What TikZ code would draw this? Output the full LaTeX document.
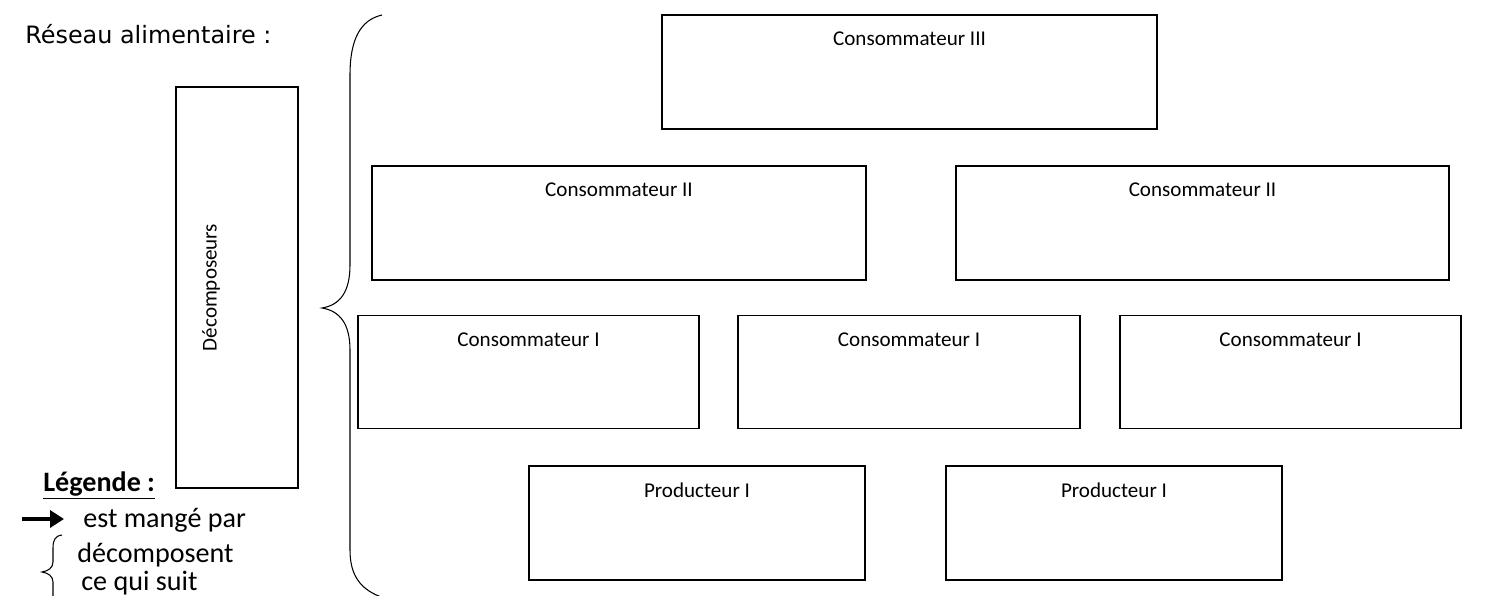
\documentclass[tikz,border=0pt]{standalone}
\usepackage{fontspec}
\setmainfont{Carlito}
\newfontfamily\titlefont{DejaVu Sans}
\usepackage{tikz}
\usetikzlibrary{positioning, arrows.meta}

\begin{document}
\begin{tikzpicture}[x = 0.02cm, y = -0.02cm,
    box/.style = {draw, thick, rectangle, inner sep = 0pt},
    lbl/.style = {inner sep = 0pt, font = \fontsize{12}{14}\selectfont},
    legtxt/.style = {inner sep = 0pt, anchor = base west, font = \fontsize{16}{19}\selectfont}]
    \useasboundingbox (0,0) rectangle (1493,595);
    % titre
    \node[inner sep = 0pt, anchor = base west, font = \titlefont\fontsize{13.6}{16}\selectfont] (titre) at (25,43) {Réseau alimentaire :};
    % decomposeurs
    \node[box, minimum width = 24.4mm, minimum height = 80.2mm] (dec) at (237,287.5) {};
    \node[lbl, rotate = 90] (dect) at ([xshift = -5.2mm]dec.center) {Décomposeurs};
    % accolade
    \draw[semithick] (382,15) .. controls (360,20) and (350,40) .. (350,75) -- (350,265)
        .. controls (350,292) and (340,305) .. (322,308)
        .. controls (340,311) and (350,324) .. (350,350) -- (350,550)
        .. controls (350,575) and (360,590) .. (384,598);
    % consommateurs III
    \node[box, minimum width = 99mm, minimum height = 22.8mm] (c3) at (909.5,72) {};
    \node[lbl, below = 3.5mm of c3.north] (c3t) {Consommateur III};
    % consommateurs II
    \node[box, minimum width = 98.8mm, minimum height = 22.8mm] (c2a) at (619,223) {};
    \node[lbl, below = 3.5mm of c2a.north] (c2at) {Consommateur II};
    \node[box, minimum width = 98.6mm, minimum height = 22.8mm] (c2b) at (1202.5,223) {};
    \node[lbl, below = 3.5mm of c2b.north] (c2bt) {Consommateur II};
    % consommateurs I
    \node[box, minimum width = 68.2mm, minimum height = 22.6mm] (c1a) at (528.5,372) {};
    \node[lbl, below = 3.5mm of c1a.north] (c1at) {Consommateur I};
    \node[box, minimum width = 68.4mm, minimum height = 22.6mm] (c1b) at (909,372) {};
    \node[lbl, below = 3.5mm of c1b.north] (c1bt) {Consommateur I};
    \node[box, minimum width = 68.2mm, minimum height = 22.6mm] (c1c) at (1290.5,372) {};
    \node[lbl, below = 3.5mm of c1c.north] (c1ct) {Consommateur I};
    % producteurs
    \node[box, minimum width = 67.2mm, minimum height = 22.8mm] (p1a) at (697,523) {};
    \node[lbl, below = 3.5mm of p1a.north] (p1at) {Producteur I};
    \node[box, minimum width = 67.2mm, minimum height = 22.8mm] (p1b) at (1114,523) {};
    \node[lbl, below = 3.5mm of p1b.north] (p1bt) {Producteur I};
    % legende
    \node[legtxt, font = \fontsize{16}{19}\selectfont\bfseries] (leg) at (43,491) {\underline{Légende :}};
    \coordinate (fa) at (22,519);
    \coordinate (fb) at (64,519);
    \draw[line width = 0.8mm, -{Triangle[length = 2.8mm, width = 3.4mm]}] (fa) -- (fb);
    \node[legtxt] (mange) at (83,527) {est mangé par};
    \draw[semithick] (62,535) .. controls (55,536) and (53,540) .. (53,548) -- (53,562)
        .. controls (53,568) and (48,571) .. (42,572)
        .. controls (48,573) and (53,576) .. (53,582) -- (53,600);
    \node[legtxt] (decomp) at (77,562) {décomposent};
    \node[legtxt] (suit) at (81,590) {ce qui suit};
\end{tikzpicture}
\end{document}
